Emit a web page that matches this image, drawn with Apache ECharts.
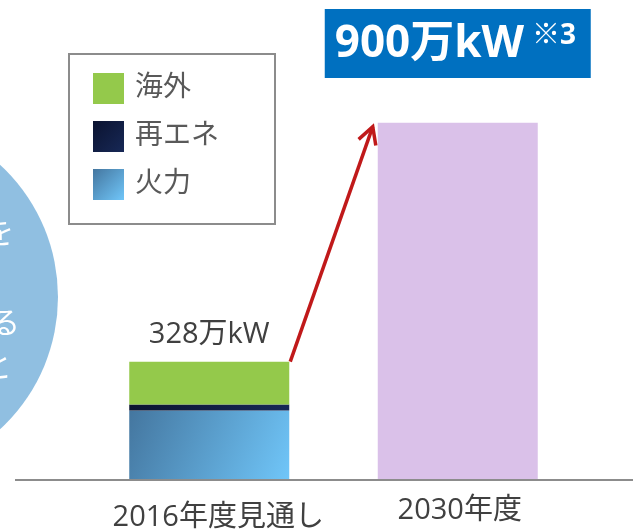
<!DOCTYPE html>
<html lang="ja">
<head>
    <meta charset="UTF-8">
    <title>発電容量</title>
    <script src="https://cdn.jsdelivr.net/npm/echarts@6/dist/echarts.min.js"></script>
    <style>
        * { margin: 0; padding: 0; box-sizing: border-box; }
        body { background: #fff; }
        #chart { width: 633px; height: 532px; }
    </style>
</head>
<body>
    <div id="chart"></div>
    <script>
        // データ（万kW）
        const categories = ['2016年度見通し', '2030年度'];
        const thermal = [175, '-'];
        const renewable = [15, '-'];
        const overseas = [108, '-'];
        const target2030 = ['-', 900];
        const totalLabels = ['328', '900'];
        const circleTexts = ['を', 'る', 'と'];

        const font = '"Open Sans", "Noto Sans CJK JP", sans-serif';
        const textColor = '#404040';

        const thermalColor = new echarts.graphic.LinearGradient(0, 0, 1, 1, [
            { offset: 0, color: '#44769f' },
            { offset: 1, color: '#70c6f9' }
        ]);
        const renewColor = new echarts.graphic.LinearGradient(0, 0, 1, 1, [
            { offset: 0, color: '#0b1330' },
            { offset: 1, color: '#172856' }
        ]);

        const chart = echarts.init(document.getElementById('chart'));
        chart.setOption({
            animation: false,
            textStyle: { fontFamily: font },
            grid: { left: 85, right: 51, top: 83, bottom: 50 },
            legend: {
                data: ['海外', '再エネ', '火力'],
                orient: 'vertical',
                left: 69,
                top: 54,
                icon: 'rect',
                itemWidth: 31,
                itemHeight: 31,
                itemGap: 17,
                padding: [19, 56, 24, 24],
                borderColor: '#8c8c8c',
                borderWidth: 2,
                textStyle: { fontSize: 28, color: '#595959', fontFamily: font, padding: [0, 0, 0, 6] }
            },
            xAxis: {
                type: 'category',
                data: categories,
                axisLine: { show: false },
                axisTick: { show: false },
                axisLabel: {
                    margin: 16,
                    formatter: (v, i) => (i === 0 ? '{a|' + v + '}' : '{b|' + v + '}'),
                    rich: {
                        a: { fontSize: 29, color: textColor, fontFamily: font, padding: [7, 0, 0, 18] },
                        b: { fontSize: 29, color: textColor, fontFamily: font, padding: [0, 0, 0, 4] }
                    }
                }
            },
            yAxis: {
                type: 'value',
                min: 0,
                max: 1000,
                show: false
            },
            series: [
                {
                    name: '火力', type: 'bar', stack: 'a', barWidth: 160,
                    data: thermal, itemStyle: { color: thermalColor }
                },
                {
                    name: '再エネ', type: 'bar', stack: 'a', barWidth: 160,
                    data: renewable, itemStyle: { color: renewColor }
                },
                {
                    name: '海外', type: 'bar', stack: 'a', barWidth: 160,
                    data: overseas, itemStyle: { color: '#94c94b' },
                    label: {
                        show: true, position: 'top', distance: 12,
                        fontSize: 29, color: textColor, fontFamily: font,
                        formatter: p => totalLabels[p.dataIndex] + '万kW'
                    }
                },
                {
                    name: '2030', type: 'bar', stack: 'a', barWidth: 160,
                    data: target2030, itemStyle: { color: '#dac1e9' }
                }
            ]
        });

        // 注記（軸線・矢印・目標ボックス・左の円）
        function drawNotes() {
            const half = 80;
            const base = chart.convertToPixel({ xAxisIndex: 0, yAxisIndex: 0 }, [0, 0]);
            const total16 = thermal[0] + renewable[0] + overseas[0];
            const top16 = chart.convertToPixel({ xAxisIndex: 0, yAxisIndex: 0 }, [0, total16]);
            const top30 = chart.convertToPixel({ xAxisIndex: 0, yAxisIndex: 0 }, [1, target2030[1]]);

            const sx = top16[0] + half + 1, sy = top16[1];
            const ex = top30[0] - half - 5, ey = top30[1] + 4;
            const ang = Math.atan2(ey - sy, ex - sx);
            const hl = 19, ha = 0.5;
            const h1 = [ex - hl * Math.cos(ang - ha), ey - hl * Math.sin(ang - ha)];
            const h2 = [ex - hl * Math.cos(ang + ha), ey - hl * Math.sin(ang + ha)];
            const red = '#c0191a';

            const circleText = [[14, 232], [20, 322], [12, 366]].map((p, i) => ({
                type: 'text', x: p[0], y: p[1],
                style: {
                    text: circleTexts[i], fill: '#fff', align: 'right', verticalAlign: 'middle',
                    font: '30px "Noto Sans CJK JP"'
                }, z: 1
            }));

            chart.setOption({
                graphic: [
                    {
                        type: 'circle', shape: { cx: -122, cy: 297, r: 180 },
                        style: { fill: '#90bfe1' }, z: 0
                    },
                    ...circleText,
                    {
                        type: 'line', shape: { x1: 15, y1: base[1], x2: 633, y2: base[1] },
                        style: { stroke: '#8c8c8c', lineWidth: 2 }, z: 10
                    },
                    {
                        type: 'line', shape: { x1: sx, y1: sy, x2: ex, y2: ey },
                        style: { stroke: red, lineWidth: 3.5 }, z: 10
                    },
                    {
                        type: 'polyline', shape: { points: [h1, [ex, ey], h2] },
                        style: { stroke: red, lineWidth: 3.5, fill: null, lineJoin: 'miter' }, z: 10
                    },
                    {
                        type: 'rect', shape: { x: top30[0] - 133, y: 9, width: 266, height: 69 },
                        style: { fill: '#0070c0' }, z: 10
                    },
                    {
                        type: 'text', x: top30[0] - 123, y: 44,
                        style: {
                            text: '{m|' + totalLabels[1] + '万kW}{s|※3}',
                            verticalAlign: 'middle',
                            rich: {
                                m: { font: 'bold 44px ' + font, fill: '#fff' },
                                s: { font: 'bold 28px ' + font, fill: '#fff', padding: [0, 0, 16, 8] }
                            }
                        }, z: 11
                    }
                ]
            });
        }
        drawNotes();
    </script>
</body>
</html>
